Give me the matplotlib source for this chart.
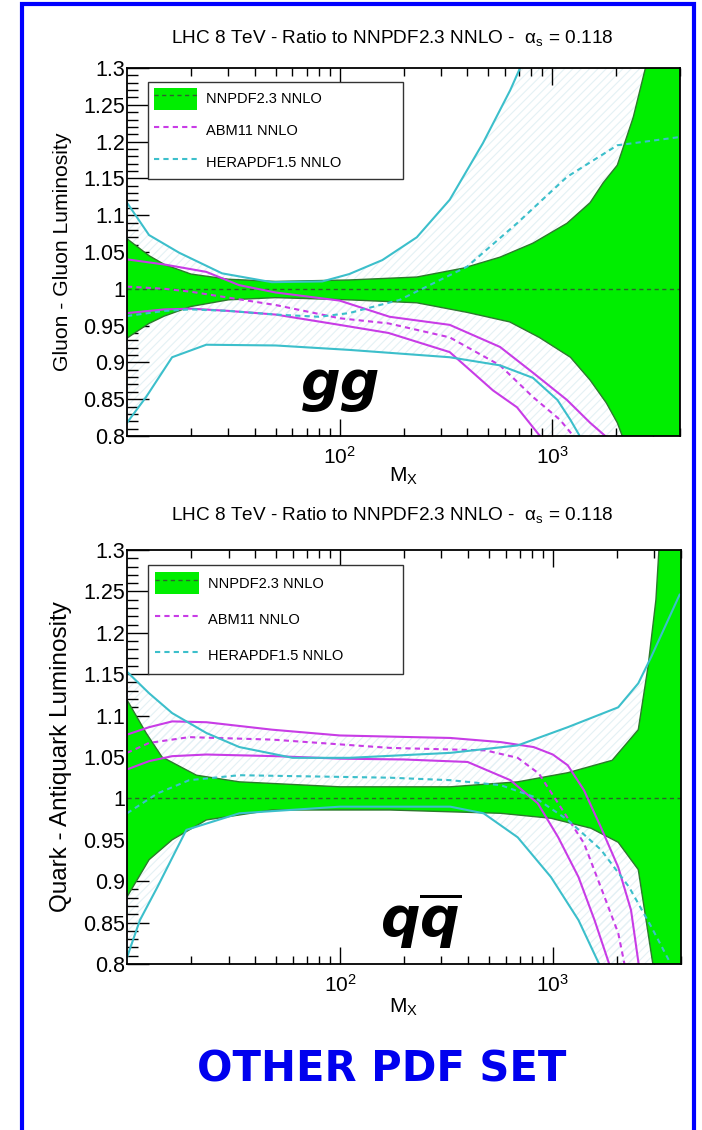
import matplotlib
matplotlib.use("Agg")
import matplotlib.pyplot as plt
import numpy as np
from matplotlib.patches import Patch, Rectangle
from matplotlib.lines import Line2D
from matplotlib.ticker import FixedLocator, LogLocator, MultipleLocator, FuncFormatter, NullFormatter

plt.rcParams['font.family'] = ['Liberation Sans', 'DejaVu Sans']
plt.rcParams['mathtext.fontset'] = 'custom'
plt.rcParams['mathtext.rm'] = 'Liberation Sans'
plt.rcParams['mathtext.it'] = 'DejaVu Sans:bold:italic'
plt.rcParams['mathtext.bf'] = 'DejaVu Sans:bold'
plt.rcParams['hatch.linewidth'] = 0.8

GREEN = '#00ee00'
GREEN_EDGE = '#2c7a2c'
MAGENTA = '#c83ce6'
CYAN = '#3cbfcb'
HATCH = '#e4f1f5'

# ---- gluon-gluon luminosity (ratio to NNPDF2.3) ----
gg_nn_up_x = [10, 12.7, 15, 20, 30, 50, 111, 231, 381, 569, 813, 1175, 1510, 1740, 2028, 2410, 2750, 4000]
gg_nn_up_y = [1.068, 1.045, 1.033, 1.020, 1.013, 1.010, 1.012, 1.016, 1.028, 1.043, 1.062, 1.089, 1.117, 1.144, 1.168, 1.233, 1.300, 1.45]
gg_nn_lo_x = [10, 12.7, 15, 20, 30, 50, 111, 231, 398, 632, 870, 1220, 1510, 1800, 2028, 2140, 4000]
gg_nn_lo_y = [0.933, 0.953, 0.963, 0.976, 0.985, 0.988, 0.985, 0.981, 0.968, 0.955, 0.934, 0.907, 0.876, 0.845, 0.818, 0.800, 0.50]

gg_abm_x = [10, 15, 20, 30, 50, 100, 170, 330, 569, 813, 1090, 1260]
gg_abm_c = [1.003, 1.000, 0.996, 0.988, 0.978, 0.960, 0.953, 0.934, 0.896, 0.853, 0.822, 0.800]
gg_abm_up_x = [10, 15, 23.6, 33.7, 50, 100, 172, 330, 569, 813, 1175, 1510, 1780]
gg_abm_up_y = [1.040, 1.033, 1.023, 1.005, 0.995, 0.984, 0.962, 0.951, 0.921, 0.886, 0.849, 0.818, 0.800]
gg_abm_lo_x = [10, 15, 20, 30, 50, 100, 170, 330, 527, 684, 877]
gg_abm_lo_y = [0.967, 0.972, 0.973, 0.970, 0.965, 0.951, 0.940, 0.914, 0.862, 0.839, 0.800]

gg_hera_x = [10, 15, 20, 30, 50, 80, 111, 192, 398, 684, 1175, 2028, 3940]
gg_hera_c = [0.963, 0.970, 0.972, 0.970, 0.965, 0.962, 0.967, 0.985, 1.030, 1.089, 1.152, 1.195, 1.206]
gg_hera_up_x = [10, 12.7, 17.6, 28, 48, 83, 111, 159, 231, 330, 473, 636, 707, 800, 4000]
gg_hera_up_y = [1.117, 1.073, 1.049, 1.021, 1.009, 1.010, 1.020, 1.039, 1.070, 1.121, 1.198, 1.270, 1.300, 1.36, 2.0]
gg_hera_lo_x = [10, 12.3, 16.3, 23.6, 50, 111, 172, 330, 569, 813, 1060, 1220, 1350, 4000]
gg_hera_lo_y = [0.818, 0.853, 0.907, 0.924, 0.923, 0.917, 0.913, 0.907, 0.896, 0.879, 0.849, 0.822, 0.800, 0.40]

# ---- quark-antiquark luminosity ----
qq_nn_up_x = [10, 12.3, 14.6, 21.2, 33.7, 100, 330, 684, 1175, 1900, 2520, 2800, 3050, 3150, 4000]
qq_nn_up_y = [1.119, 1.079, 1.050, 1.028, 1.020, 1.014, 1.014, 1.020, 1.031, 1.046, 1.083, 1.159, 1.240, 1.300, 1.50]
qq_nn_lo_x = [10, 12.7, 16.3, 23.6, 48, 172, 569, 980, 1510, 2028, 2520, 2950, 4000]
qq_nn_lo_y = [0.881, 0.926, 0.950, 0.974, 0.986, 0.986, 0.982, 0.976, 0.964, 0.947, 0.914, 0.800, 0.50]

qq_abm_x = [10, 12.7, 19.6, 48, 172, 483, 684, 860, 1060, 1400, 1720, 2030, 2170]
qq_abm_c = [1.055, 1.067, 1.074, 1.071, 1.061, 1.058, 1.049, 1.030, 0.994, 0.946, 0.886, 0.837, 0.800]
qq_abm_up_x = [10, 12.7, 16.3, 23.6, 48, 100, 330, 569, 813, 1000, 1175, 1400, 1683, 2028, 2330, 2530]
qq_abm_up_y = [1.077, 1.086, 1.093, 1.092, 1.083, 1.076, 1.073, 1.068, 1.062, 1.053, 1.040, 1.010, 0.965, 0.917, 0.865, 0.800]
qq_abm_lo_x = [10, 12.7, 16.3, 23.6, 50, 100, 200, 398, 632, 850, 1060, 1320, 1570, 1840]
qq_abm_lo_y = [1.035, 1.045, 1.051, 1.053, 1.051, 1.048, 1.047, 1.044, 1.022, 0.994, 0.953, 0.905, 0.853, 0.800]

qq_hera_x = [10, 13.9, 19.6, 33.7, 172, 330, 569, 813, 1175, 1683, 2280, 2900, 3500]
qq_hera_c = [0.982, 1.006, 1.022, 1.028, 1.025, 1.022, 1.016, 1.002, 0.974, 0.938, 0.893, 0.845, 0.805]
qq_hera_up_x = [10, 12.7, 16.3, 23.6, 33.7, 60, 111, 330, 684, 1175, 2028, 2520, 2900, 3940]
qq_hera_up_y = [1.153, 1.127, 1.103, 1.079, 1.062, 1.049, 1.049, 1.055, 1.064, 1.086, 1.110, 1.139, 1.171, 1.246]
qq_hera_lo_x = [10, 11.5, 13.9, 19, 33.7, 100, 330, 473, 684, 980, 1320, 1650, 3940]
qq_hera_lo_y = [0.808, 0.853, 0.893, 0.962, 0.982, 0.990, 0.990, 0.982, 0.953, 0.905, 0.853, 0.800, 0.40]

titles = ["LHC 8 TeV - Ratio to NNPDF2.3 NNLO -  $\\mathrm{\\alpha_{s}}$ = 0.118"] * 2
ylabels = ["Gluon - Gluon Luminosity", "Quark - Antiquark Luminosity"]
ylabel_size = [15.2, 17.5]
channel = ["gg", "$q\\overline{q}$"]
labels = ["NNPDF2.3 NNLO", "ABM11 NNLO", "HERAPDF1.5 NNLO"]


def band(ax, xu, yu, xl, yl, **kw):
    xs = np.concatenate([xu, xl[::-1]])
    ys = np.concatenate([yu, yl[::-1]])
    ax.fill(xs, ys, **kw)


def draw_panel(ax, d):
    # hatched bands of the other sets
    band(ax, d['hu'][0], d['hu'][1], d['hl'][0], d['hl'][1],
         facecolor='none', edgecolor=HATCH, hatch='////', linewidth=0, zorder=1)
    band(ax, d['au'][0], d['au'][1], d['al'][0], d['al'][1],
         facecolor='none', edgecolor=HATCH, hatch='////', linewidth=0, zorder=1)
    # NNPDF band
    band(ax, d['nu'][0], d['nu'][1], d['nl'][0], d['nl'][1],
         facecolor=GREEN, edgecolor='none', zorder=2)
    ax.plot(d['nu'][0], d['nu'][1], color=GREEN_EDGE, lw=1.0, zorder=3)
    ax.plot(d['nl'][0], d['nl'][1], color=GREEN_EDGE, lw=1.0, zorder=3)
    ax.axhline(1.0, color='#2f5f2f', lw=1.0, ls=(0, (3, 2.5)), zorder=3)

    ax.plot(d['au'][0], d['au'][1], color=MAGENTA, lw=1.5, zorder=4)
    ax.plot(d['al'][0], d['al'][1], color=MAGENTA, lw=1.5, zorder=4)
    ax.plot(d['ac'][0], d['ac'][1], color=MAGENTA, lw=1.5, ls=(0, (2.5, 2)), zorder=4)
    ax.plot(d['hu'][0], d['hu'][1], color=CYAN, lw=1.5, zorder=4)
    ax.plot(d['hl'][0], d['hl'][1], color=CYAN, lw=1.5, zorder=4)
    ax.plot(d['hc'][0], d['hc'][1], color=CYAN, lw=1.5, ls=(0, (2.5, 2)), zorder=4)

    ax.set_xscale('log')
    ax.set_xlim(10, 4000)
    ax.set_ylim(0.8, 1.3)
    ax.xaxis.set_major_locator(FixedLocator([100, 1000]))
    ax.xaxis.set_minor_locator(LogLocator(base=10, subs=np.arange(2, 10)))
    ax.xaxis.set_minor_formatter(NullFormatter())
    ax.yaxis.set_major_locator(MultipleLocator(0.05))
    ax.yaxis.set_minor_locator(MultipleLocator(0.01))
    ax.yaxis.set_major_formatter(FuncFormatter(lambda v, p: '%g' % round(v, 3)))
    ax.tick_params(axis='x', which='major', direction='in', top=True, length=12, width=1, labelsize=15, pad=7)
    ax.tick_params(axis='x', which='minor', direction='in', top=True, length=6, width=1)
    ax.tick_params(axis='y', which='major', direction='in', right=False, length=16, width=1, labelsize=15.5, pad=1.5)
    ax.tick_params(axis='y', which='minor', direction='in', right=False, length=8, width=1)
    for s in ax.spines.values():
        s.set_linewidth(1.3)
        s.set_zorder(6)
    ax.set_xlabel('$\\mathrm{M_{X}}$', fontsize=15)
    ax.xaxis.set_label_coords(0.5, -0.08)

    handles = [(Patch(facecolor=GREEN, edgecolor='none'),
                Line2D([], [], color='#2f5f2f', lw=1.0, ls=(0, (3, 2.5)))),
               Line2D([], [], color=MAGENTA, lw=1.5, ls=(0, (2.5, 2))),
               Line2D([], [], color=CYAN, lw=1.5, ls=(0, (2.5, 2)))]
    leg = ax.legend(handles, labels, loc='upper left', bbox_to_anchor=d['leg'], mode='expand',
                    borderaxespad=0, fontsize=10.5, handlelength=3.0, handleheight=1.95,
                    handletextpad=0.6, labelspacing=d['sp'], borderpad=d['pad'],
                    fancybox=False, framealpha=1, edgecolor='#333333')
    leg.get_frame().set_linewidth(1.0)
    leg.set_zorder(7)


fig = plt.figure(figsize=(7.02, 11.30), dpi=100)

ax1 = fig.add_axes([127 / 702, 1 - 436 / 1130, 553 / 702, 368 / 1130])
ax2 = fig.add_axes([127 / 702, 1 - 964 / 1130, 554 / 702, 414 / 1130])

panels = [
    dict(nu=(gg_nn_up_x, gg_nn_up_y), nl=(gg_nn_lo_x, gg_nn_lo_y),
         au=(gg_abm_up_x, gg_abm_up_y), al=(gg_abm_lo_x, gg_abm_lo_y), ac=(gg_abm_x, gg_abm_c),
         hu=(gg_hera_up_x, gg_hera_up_y), hl=(gg_hera_lo_x, gg_hera_lo_y), hc=(gg_hera_x, gg_hera_c),
         leg=(0.038, 0.701, 0.461, 0.261), sp=0.68, pad=0.38),
    dict(nu=(qq_nn_up_x, qq_nn_up_y), nl=(qq_nn_lo_x, qq_nn_lo_y),
         au=(qq_abm_up_x, qq_abm_up_y), al=(qq_abm_lo_x, qq_abm_lo_y), ac=(qq_abm_x, qq_abm_c),
         hu=(qq_hera_up_x, qq_hera_up_y), hl=(qq_hera_lo_x, qq_hera_lo_y), hc=(qq_hera_x, qq_hera_c),
         leg=(0.038, 0.700, 0.461, 0.264), sp=0.96, pad=0.5),
]

for i, ax in enumerate([ax1, ax2]):
    draw_panel(ax, panels[i])
    ax.set_ylabel(ylabels[i], fontsize=ylabel_size[i])
    ax.yaxis.set_label_coords(-0.0995, 0.5)

fig.text(392 / 702, 1 - 38 / 1130, titles[0], ha='center', va='center', fontsize=13.7)
fig.text(392 / 702, 1 - 515 / 1130, titles[1], ha='center', va='center', fontsize=13.7)

ax1.text(0.387, 0.098, channel[0], transform=ax1.transAxes, ha='center', va='baseline',
         fontsize=40, fontweight='bold', fontstyle='oblique', family='DejaVu Sans', zorder=8)
ax2.text(0.531, 0.065, channel[1], transform=ax2.transAxes, ha='center', va='baseline',
         fontsize=40, zorder=8)

fig.text(382 / 702, 1 - 1070 / 1130, "OTHER PDF SET", ha='center', va='center',
         fontsize=30, fontweight='bold', color='#0000ee', family='DejaVu Sans')

fig.add_artist(Rectangle((22 / 702, -0.02), (694 - 22) / 702, 1.02 - 4 / 1130,
                         transform=fig.transFigure, fill=False, edgecolor='#0000ff', linewidth=3))

fig.savefig('out.png', dpi=100)
